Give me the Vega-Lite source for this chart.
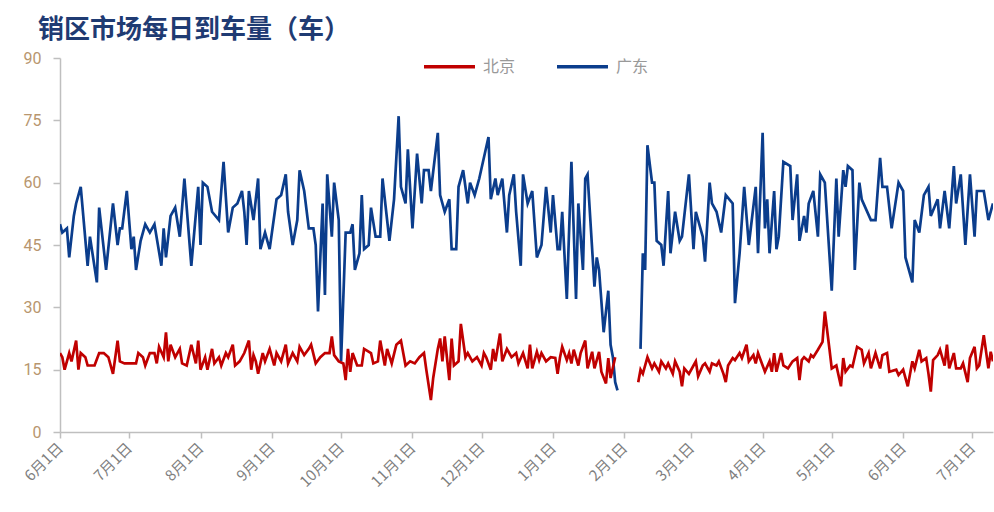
{
"$schema": "https://vega.github.io/schema/vega-lite/v6.json",
"width": 933,
"height": 374,
"autosize": {"type": "none"},
"padding": {"left": 60, "top": 58, "right": 1, "bottom": 80},
"background": "white",
"title": {"text": "销区市场每日到车量（车）", "anchor": "start", "dx": 16, "dy": 11, "fontSize": 26, "font": "Noto Sans CJK SC", "fontWeight": "bold", "color": "#1F3B73", "offset": 7},
"data": {"values": [
{"d":"2023/06/01","s":"广东","v":50,"g":1},{"d":"2023/06/02","s":"广东","v":48,"g":1},{"d":"2023/06/04","s":"广东","v":49,"g":1},{"d":"2023/06/05","s":"广东","v":42,"g":1},{"d":"2023/06/07","s":"广东","v":52,"g":1},{"d":"2023/06/08","s":"广东","v":55,"g":1},{"d":"2023/06/10","s":"广东","v":59,"g":1},{"d":"2023/06/13","s":"广东","v":40,"g":1},{"d":"2023/06/14","s":"广东","v":47,"g":1},{"d":"2023/06/17","s":"广东","v":36,"g":1},{"d":"2023/06/18","s":"广东","v":54,"g":1},{"d":"2023/06/21","s":"广东","v":39,"g":1},{"d":"2023/06/24","s":"广东","v":55,"g":1},{"d":"2023/06/26","s":"广东","v":45,"g":1},{"d":"2023/06/27","s":"广东","v":49,"g":1},{"d":"2023/06/28","s":"广东","v":49,"g":1},{"d":"2023/06/30","s":"广东","v":58,"g":1},
{"d":"2023/07/02","s":"广东","v":44,"g":1},{"d":"2023/07/03","s":"广东","v":47,"g":1},{"d":"2023/07/04","s":"广东","v":39,"g":1},{"d":"2023/07/06","s":"广东","v":46,"g":1},{"d":"2023/07/08","s":"广东","v":50,"g":1},{"d":"2023/07/10","s":"广东","v":48,"g":1},{"d":"2023/07/12","s":"广东","v":50,"g":1},{"d":"2023/07/15","s":"广东","v":40,"g":1},{"d":"2023/07/16","s":"广东","v":49,"g":1},{"d":"2023/07/17","s":"广东","v":42,"g":1},{"d":"2023/07/19","s":"广东","v":52,"g":1},{"d":"2023/07/21","s":"广东","v":54,"g":1},{"d":"2023/07/23","s":"广东","v":47,"g":1},{"d":"2023/07/25","s":"广东","v":61,"g":1},{"d":"2023/07/28","s":"广东","v":40,"g":1},{"d":"2023/07/31","s":"广东","v":59,"g":1},
{"d":"2023/08/01","s":"广东","v":45,"g":1},{"d":"2023/08/02","s":"广东","v":60,"g":1},{"d":"2023/08/04","s":"广东","v":59,"g":1},{"d":"2023/08/06","s":"广东","v":53,"g":1},{"d":"2023/08/09","s":"广东","v":51,"g":1},{"d":"2023/08/11","s":"广东","v":65,"g":1},{"d":"2023/08/13","s":"广东","v":48,"g":1},{"d":"2023/08/15","s":"广东","v":54,"g":1},{"d":"2023/08/17","s":"广东","v":55,"g":1},{"d":"2023/08/19","s":"广东","v":58,"g":1},{"d":"2023/08/20","s":"广东","v":53,"g":1},{"d":"2023/08/21","s":"广东","v":45,"g":1},{"d":"2023/08/22","s":"广东","v":58,"g":1},{"d":"2023/08/24","s":"广东","v":51,"g":1},{"d":"2023/08/26","s":"广东","v":61,"g":1},{"d":"2023/08/27","s":"广东","v":44,"g":1},{"d":"2023/08/29","s":"广东","v":48,"g":1},{"d":"2023/08/31","s":"广东","v":44,"g":1},
{"d":"2023/09/03","s":"广东","v":56,"g":1},{"d":"2023/09/05","s":"广东","v":57,"g":1},{"d":"2023/09/07","s":"广东","v":62,"g":1},{"d":"2023/09/08","s":"广东","v":53,"g":1},{"d":"2023/09/10","s":"广东","v":45,"g":1},{"d":"2023/09/12","s":"广东","v":51,"g":1},{"d":"2023/09/13","s":"广东","v":63,"g":1},{"d":"2023/09/15","s":"广东","v":58,"g":1},{"d":"2023/09/17","s":"广东","v":49,"g":1},{"d":"2023/09/19","s":"广东","v":49,"g":1},{"d":"2023/09/20","s":"广东","v":45,"g":1},{"d":"2023/09/21","s":"广东","v":29,"g":1},{"d":"2023/09/23","s":"广东","v":55,"g":1},{"d":"2023/09/24","s":"广东","v":33,"g":1},{"d":"2023/09/25","s":"广东","v":62,"g":1},{"d":"2023/09/27","s":"广东","v":47,"g":1},{"d":"2023/09/28","s":"广东","v":60,"g":1},{"d":"2023/09/30","s":"广东","v":51,"g":1},
{"d":"2023/10/01","s":"广东","v":17,"g":1},{"d":"2023/10/03","s":"广东","v":48,"g":1},{"d":"2023/10/05","s":"广东","v":48,"g":1},{"d":"2023/10/06","s":"广东","v":50,"g":1},{"d":"2023/10/07","s":"广东","v":39,"g":1},{"d":"2023/10/09","s":"广东","v":43,"g":1},{"d":"2023/10/10","s":"广东","v":57,"g":1},{"d":"2023/10/11","s":"广东","v":44,"g":1},{"d":"2023/10/13","s":"广东","v":45,"g":1},{"d":"2023/10/14","s":"广东","v":54,"g":1},{"d":"2023/10/16","s":"广东","v":47,"g":1},{"d":"2023/10/18","s":"广东","v":47,"g":1},{"d":"2023/10/19","s":"广东","v":61,"g":1},{"d":"2023/10/22","s":"广东","v":46,"g":1},{"d":"2023/10/24","s":"广东","v":56,"g":1},{"d":"2023/10/26","s":"广东","v":76,"g":1},{"d":"2023/10/27","s":"广东","v":59,"g":1},{"d":"2023/10/29","s":"广东","v":55,"g":1},{"d":"2023/10/30","s":"广东","v":68,"g":1},
{"d":"2023/11/01","s":"广东","v":49,"g":1},{"d":"2023/11/03","s":"广东","v":67,"g":1},{"d":"2023/11/05","s":"广东","v":55,"g":1},{"d":"2023/11/06","s":"广东","v":63,"g":1},{"d":"2023/11/08","s":"广东","v":63,"g":1},{"d":"2023/11/09","s":"广东","v":58,"g":1},{"d":"2023/11/12","s":"广东","v":72,"g":1},{"d":"2023/11/13","s":"广东","v":57,"g":1},{"d":"2023/11/15","s":"广东","v":53,"g":1},{"d":"2023/11/17","s":"广东","v":56,"g":1},{"d":"2023/11/18","s":"广东","v":44,"g":1},{"d":"2023/11/20","s":"广东","v":44,"g":1},{"d":"2023/11/21","s":"广东","v":59,"g":1},{"d":"2023/11/23","s":"广东","v":63,"g":1},{"d":"2023/11/25","s":"广东","v":55,"g":1},{"d":"2023/11/26","s":"广东","v":60,"g":1},{"d":"2023/11/28","s":"广东","v":57,"g":1},{"d":"2023/11/30","s":"广东","v":61,"g":1},
{"d":"2023/12/04","s":"广东","v":71,"g":1},{"d":"2023/12/05","s":"广东","v":56,"g":1},{"d":"2023/12/07","s":"广东","v":61,"g":1},{"d":"2023/12/08","s":"广东","v":57,"g":1},{"d":"2023/12/10","s":"广东","v":61,"g":1},{"d":"2023/12/12","s":"广东","v":48,"g":1},{"d":"2023/12/13","s":"广东","v":57,"g":1},{"d":"2023/12/15","s":"广东","v":62,"g":1},{"d":"2023/12/16","s":"广东","v":53,"g":1},{"d":"2023/12/18","s":"广东","v":40,"g":1},{"d":"2023/12/19","s":"广东","v":62,"g":1},{"d":"2023/12/21","s":"广东","v":55,"g":1},{"d":"2023/12/23","s":"广东","v":58,"g":1},{"d":"2023/12/25","s":"广东","v":42,"g":1},{"d":"2023/12/27","s":"广东","v":45,"g":1},{"d":"2023/12/29","s":"广东","v":59,"g":1},{"d":"2023/12/31","s":"广东","v":48,"g":1},
{"d":"2024/01/01","s":"广东","v":57,"g":1},{"d":"2024/01/03","s":"广东","v":44,"g":1},{"d":"2024/01/04","s":"广东","v":44,"g":1},{"d":"2024/01/05","s":"广东","v":53,"g":1},{"d":"2024/01/07","s":"广东","v":32,"g":1},{"d":"2024/01/09","s":"广东","v":65,"g":1},{"d":"2024/01/11","s":"广东","v":32,"g":1},{"d":"2024/01/12","s":"广东","v":55,"g":1},{"d":"2024/01/14","s":"广东","v":39,"g":1},{"d":"2024/01/15","s":"广东","v":61,"g":1},{"d":"2024/01/16","s":"广东","v":62,"g":1},{"d":"2024/01/19","s":"广东","v":35,"g":1},{"d":"2024/01/20","s":"广东","v":42,"g":1},{"d":"2024/01/21","s":"广东","v":39,"g":1},{"d":"2024/01/23","s":"广东","v":24,"g":1},{"d":"2024/01/25","s":"广东","v":34,"g":1},{"d":"2024/01/26","s":"广东","v":21,"g":1},{"d":"2024/01/27","s":"广东","v":18,"g":1},{"d":"2024/01/28","s":"广东","v":12,"g":1},{"d":"2024/01/29","s":"广东","v":10,"g":1},
{"d":"2024/02/08","s":"广东","v":20,"g":2},{"d":"2024/02/09","s":"广东","v":43,"g":2},{"d":"2024/02/10","s":"广东","v":39,"g":2},{"d":"2024/02/11","s":"广东","v":69,"g":2},{"d":"2024/02/13","s":"广东","v":60,"g":2},{"d":"2024/02/14","s":"广东","v":60,"g":2},{"d":"2024/02/15","s":"广东","v":46,"g":2},{"d":"2024/02/17","s":"广东","v":45,"g":2},{"d":"2024/02/18","s":"广东","v":40,"g":2},{"d":"2024/02/20","s":"广东","v":58,"g":2},{"d":"2024/02/21","s":"广东","v":43,"g":2},{"d":"2024/02/23","s":"广东","v":53,"g":2},{"d":"2024/02/25","s":"广东","v":46,"g":2},{"d":"2024/02/26","s":"广东","v":47,"g":2},{"d":"2024/02/27","s":"广东","v":52,"g":2},{"d":"2024/02/29","s":"广东","v":62,"g":2},
{"d":"2024/03/02","s":"广东","v":44,"g":2},{"d":"2024/03/03","s":"广东","v":53,"g":2},{"d":"2024/03/06","s":"广东","v":47,"g":2},{"d":"2024/03/07","s":"广东","v":41,"g":2},{"d":"2024/03/09","s":"广东","v":60,"g":2},{"d":"2024/03/10","s":"广东","v":55,"g":2},{"d":"2024/03/12","s":"广东","v":53,"g":2},{"d":"2024/03/14","s":"广东","v":48,"g":2},{"d":"2024/03/16","s":"广东","v":57,"g":2},{"d":"2024/03/19","s":"广东","v":55,"g":2},{"d":"2024/03/20","s":"广东","v":31,"g":2},{"d":"2024/03/22","s":"广东","v":43,"g":2},{"d":"2024/03/24","s":"广东","v":59,"g":2},{"d":"2024/03/26","s":"广东","v":45,"g":2},{"d":"2024/03/29","s":"广东","v":59,"g":2},{"d":"2024/03/30","s":"广东","v":43,"g":2},
{"d":"2024/04/01","s":"广东","v":72,"g":2},{"d":"2024/04/02","s":"广东","v":49,"g":2},{"d":"2024/04/03","s":"广东","v":56,"g":2},{"d":"2024/04/04","s":"广东","v":43,"g":2},{"d":"2024/04/06","s":"广东","v":58,"g":2},{"d":"2024/04/07","s":"广东","v":44,"g":2},{"d":"2024/04/08","s":"广东","v":47,"g":2},{"d":"2024/04/10","s":"广东","v":65,"g":2},{"d":"2024/04/13","s":"广东","v":64,"g":2},{"d":"2024/04/14","s":"广东","v":51,"g":2},{"d":"2024/04/16","s":"广东","v":62,"g":2},{"d":"2024/04/17","s":"广东","v":46,"g":2},{"d":"2024/04/19","s":"广东","v":52,"g":2},{"d":"2024/04/20","s":"广东","v":48,"g":2},{"d":"2024/04/21","s":"广东","v":55,"g":2},{"d":"2024/04/23","s":"广东","v":58,"g":2},{"d":"2024/04/25","s":"广东","v":47,"g":2},{"d":"2024/04/26","s":"广东","v":62,"g":2},{"d":"2024/04/28","s":"广东","v":60,"g":2},
{"d":"2024/05/01","s":"广东","v":34,"g":2},{"d":"2024/05/03","s":"广东","v":61,"g":2},{"d":"2024/05/04","s":"广东","v":47,"g":2},{"d":"2024/05/06","s":"广东","v":63,"g":2},{"d":"2024/05/07","s":"广东","v":59,"g":2},{"d":"2024/05/08","s":"广东","v":64,"g":2},{"d":"2024/05/10","s":"广东","v":63,"g":2},{"d":"2024/05/11","s":"广东","v":39,"g":2},{"d":"2024/05/13","s":"广东","v":60,"g":2},{"d":"2024/05/14","s":"广东","v":56,"g":2},{"d":"2024/05/18","s":"广东","v":51,"g":2},{"d":"2024/05/20","s":"广东","v":51,"g":2},{"d":"2024/05/22","s":"广东","v":66,"g":2},{"d":"2024/05/23","s":"广东","v":59,"g":2},{"d":"2024/05/25","s":"广东","v":59,"g":2},{"d":"2024/05/27","s":"广东","v":49,"g":2},{"d":"2024/05/30","s":"广东","v":60,"g":2},
{"d":"2024/06/01","s":"广东","v":58,"g":2},{"d":"2024/06/02","s":"广东","v":42,"g":2},{"d":"2024/06/05","s":"广东","v":36,"g":2},{"d":"2024/06/06","s":"广东","v":51,"g":2},{"d":"2024/06/08","s":"广东","v":48,"g":2},{"d":"2024/06/10","s":"广东","v":57,"g":2},{"d":"2024/06/12","s":"广东","v":59,"g":2},{"d":"2024/06/13","s":"广东","v":52,"g":2},{"d":"2024/06/16","s":"广东","v":56,"g":2},{"d":"2024/06/17","s":"广东","v":49,"g":2},{"d":"2024/06/19","s":"广东","v":58,"g":2},{"d":"2024/06/21","s":"广东","v":49,"g":2},{"d":"2024/06/23","s":"广东","v":64,"g":2},{"d":"2024/06/24","s":"广东","v":55,"g":2},{"d":"2024/06/26","s":"广东","v":62,"g":2},{"d":"2024/06/28","s":"广东","v":45,"g":2},{"d":"2024/06/30","s":"广东","v":62,"g":2},{"d":"2024/07/02","s":"广东","v":47,"g":2},{"d":"2024/07/03","s":"广东","v":58,"g":2},{"d":"2024/07/06","s":"广东","v":58,"g":2},{"d":"2024/07/08","s":"广东","v":51,"g":2},{"d":"2024/07/10","s":"广东","v":55,"g":2},
{"d":"2023/06/01","s":"北京","v":19,"g":1},{"d":"2023/06/02","s":"北京","v":18,"g":1},{"d":"2023/06/03","s":"北京","v":15,"g":1},{"d":"2023/06/05","s":"北京","v":19,"g":1},{"d":"2023/06/06","s":"北京","v":17,"g":1},{"d":"2023/06/08","s":"北京","v":22,"g":1},{"d":"2023/06/09","s":"北京","v":15,"g":1},{"d":"2023/06/10","s":"北京","v":19,"g":1},{"d":"2023/06/12","s":"北京","v":18,"g":1},{"d":"2023/06/13","s":"北京","v":16,"g":1},{"d":"2023/06/16","s":"北京","v":16,"g":1},{"d":"2023/06/18","s":"北京","v":19,"g":1},{"d":"2023/06/20","s":"北京","v":19,"g":1},{"d":"2023/06/22","s":"北京","v":18,"g":1},{"d":"2023/06/24","s":"北京","v":14,"g":1},{"d":"2023/06/26","s":"北京","v":22,"g":1},{"d":"2023/06/27","s":"北京","v":17,"g":1},{"d":"2023/06/29","s":"北京","v":16.5,"g":1},
{"d":"2023/07/04","s":"北京","v":16.5,"g":1},{"d":"2023/07/05","s":"北京","v":19,"g":1},{"d":"2023/07/07","s":"北京","v":18,"g":1},{"d":"2023/07/08","s":"北京","v":16,"g":1},{"d":"2023/07/10","s":"北京","v":19,"g":1},{"d":"2023/07/12","s":"北京","v":19,"g":1},{"d":"2023/07/13","s":"北京","v":16.5,"g":1},{"d":"2023/07/14","s":"北京","v":20.5,"g":1},{"d":"2023/07/16","s":"北京","v":18,"g":1},{"d":"2023/07/17","s":"北京","v":24,"g":1},{"d":"2023/07/18","s":"北京","v":17,"g":1},{"d":"2023/07/19","s":"北京","v":21,"g":1},{"d":"2023/07/21","s":"北京","v":18,"g":1},{"d":"2023/07/23","s":"北京","v":20,"g":1},{"d":"2023/07/24","s":"北京","v":16.5,"g":1},{"d":"2023/07/26","s":"北京","v":16,"g":1},{"d":"2023/07/28","s":"北京","v":21,"g":1},{"d":"2023/07/30","s":"北京","v":16.5,"g":1},{"d":"2023/07/31","s":"北京","v":22,"g":1},
{"d":"2023/08/01","s":"北京","v":15,"g":1},{"d":"2023/08/03","s":"北京","v":18,"g":1},{"d":"2023/08/04","s":"北京","v":15,"g":1},{"d":"2023/08/06","s":"北京","v":20,"g":1},{"d":"2023/08/07","s":"北京","v":16.5,"g":1},{"d":"2023/08/09","s":"北京","v":18,"g":1},{"d":"2023/08/10","s":"北京","v":16,"g":1},{"d":"2023/08/12","s":"北京","v":19,"g":1},{"d":"2023/08/13","s":"北京","v":18,"g":1},{"d":"2023/08/15","s":"北京","v":21,"g":1},{"d":"2023/08/16","s":"北京","v":16,"g":1},{"d":"2023/08/18","s":"北京","v":17,"g":1},{"d":"2023/08/20","s":"北京","v":19,"g":1},{"d":"2023/08/22","s":"北京","v":22,"g":1},{"d":"2023/08/23","s":"北京","v":15,"g":1},{"d":"2023/08/24","s":"北京","v":18.5,"g":1},{"d":"2023/08/25","s":"北京","v":17,"g":1},{"d":"2023/08/26","s":"北京","v":14,"g":1},{"d":"2023/08/28","s":"北京","v":19,"g":1},{"d":"2023/08/29","s":"北京","v":17,"g":1},{"d":"2023/08/31","s":"北京","v":20,"g":1},
{"d":"2023/09/02","s":"北京","v":16,"g":1},{"d":"2023/09/03","s":"北京","v":19,"g":1},{"d":"2023/09/05","s":"北京","v":17,"g":1},{"d":"2023/09/07","s":"北京","v":21,"g":1},{"d":"2023/09/08","s":"北京","v":16.5,"g":1},{"d":"2023/09/10","s":"北京","v":19,"g":1},{"d":"2023/09/12","s":"北京","v":17,"g":1},{"d":"2023/09/13","s":"北京","v":20.5,"g":1},{"d":"2023/09/15","s":"北京","v":18.5,"g":1},{"d":"2023/09/17","s":"北京","v":20,"g":1},{"d":"2023/09/18","s":"北京","v":21,"g":1},{"d":"2023/09/20","s":"北京","v":16.5,"g":1},{"d":"2023/09/22","s":"北京","v":18,"g":1},{"d":"2023/09/24","s":"北京","v":19,"g":1},{"d":"2023/09/26","s":"北京","v":19,"g":1},{"d":"2023/09/27","s":"北京","v":23,"g":1},{"d":"2023/09/28","s":"北京","v":18.5,"g":1},{"d":"2023/09/30","s":"北京","v":17,"g":1},
{"d":"2023/10/02","s":"北京","v":16.5,"g":1},{"d":"2023/10/03","s":"北京","v":12.5,"g":1},{"d":"2023/10/04","s":"北京","v":20,"g":1},{"d":"2023/10/05","s":"北京","v":14.5,"g":1},{"d":"2023/10/06","s":"北京","v":19,"g":1},{"d":"2023/10/08","s":"北京","v":16,"g":1},{"d":"2023/10/10","s":"北京","v":16,"g":1},{"d":"2023/10/11","s":"北京","v":20,"g":1},{"d":"2023/10/14","s":"北京","v":19,"g":1},{"d":"2023/10/15","s":"北京","v":16.5,"g":1},{"d":"2023/10/17","s":"北京","v":17,"g":1},{"d":"2023/10/18","s":"北京","v":22,"g":1},{"d":"2023/10/20","s":"北京","v":16,"g":1},{"d":"2023/10/21","s":"北京","v":20,"g":1},{"d":"2023/10/23","s":"北京","v":16.5,"g":1},{"d":"2023/10/25","s":"北京","v":21,"g":1},{"d":"2023/10/27","s":"北京","v":22,"g":1},{"d":"2023/10/29","s":"北京","v":16,"g":1},{"d":"2023/10/31","s":"北京","v":17,"g":1},
{"d":"2023/11/02","s":"北京","v":16.5,"g":1},{"d":"2023/11/04","s":"北京","v":18,"g":1},{"d":"2023/11/06","s":"北京","v":19,"g":1},{"d":"2023/11/07","s":"北京","v":15,"g":1},{"d":"2023/11/09","s":"北京","v":7.7,"g":1},{"d":"2023/11/10","s":"北京","v":13,"g":1},{"d":"2023/11/12","s":"北京","v":20,"g":1},{"d":"2023/11/13","s":"北京","v":22.5,"g":1},{"d":"2023/11/14","s":"北京","v":17,"g":1},{"d":"2023/11/15","s":"北京","v":23,"g":1},{"d":"2023/11/17","s":"北京","v":12.5,"g":1},{"d":"2023/11/18","s":"北京","v":22.5,"g":1},{"d":"2023/11/19","s":"北京","v":16,"g":1},{"d":"2023/11/21","s":"北京","v":17,"g":1},{"d":"2023/11/22","s":"北京","v":26,"g":1},{"d":"2023/11/24","s":"北京","v":18,"g":1},{"d":"2023/11/25","s":"北京","v":19,"g":1},{"d":"2023/11/27","s":"北京","v":17,"g":1},{"d":"2023/11/29","s":"北京","v":18,"g":1},
{"d":"2023/12/01","s":"北京","v":16,"g":1},{"d":"2023/12/02","s":"北京","v":19,"g":1},{"d":"2023/12/03","s":"北京","v":18,"g":1},{"d":"2023/12/05","s":"北京","v":15,"g":1},{"d":"2023/12/06","s":"北京","v":20,"g":1},{"d":"2023/12/07","s":"北京","v":17,"g":1},{"d":"2023/12/09","s":"北京","v":23.7,"g":1},{"d":"2023/12/10","s":"北京","v":17,"g":1},{"d":"2023/12/12","s":"北京","v":20,"g":1},{"d":"2023/12/14","s":"北京","v":18,"g":1},{"d":"2023/12/16","s":"北京","v":19,"g":1},{"d":"2023/12/17","s":"北京","v":16.5,"g":1},{"d":"2023/12/19","s":"北京","v":19,"g":1},{"d":"2023/12/21","s":"北京","v":15.3,"g":1},{"d":"2023/12/22","s":"北京","v":21,"g":1},{"d":"2023/12/23","s":"北京","v":15.3,"g":1},{"d":"2023/12/25","s":"北京","v":19.3,"g":1},{"d":"2023/12/26","s":"北京","v":17.3,"g":1},{"d":"2023/12/27","s":"北京","v":19,"g":1},{"d":"2023/12/29","s":"北京","v":17,"g":1},{"d":"2023/12/31","s":"北京","v":18,"g":1},
{"d":"2024/01/02","s":"北京","v":17.8,"g":1},{"d":"2024/01/03","s":"北京","v":14,"g":1},{"d":"2024/01/04","s":"北京","v":17.8,"g":1},{"d":"2024/01/05","s":"北京","v":20.5,"g":1},{"d":"2024/01/07","s":"北京","v":17.3,"g":1},{"d":"2024/01/08","s":"北京","v":19,"g":1},{"d":"2024/01/09","s":"北京","v":16.5,"g":1},{"d":"2024/01/10","s":"北京","v":19.8,"g":1},{"d":"2024/01/12","s":"北京","v":16,"g":1},{"d":"2024/01/13","s":"北京","v":19,"g":1},{"d":"2024/01/15","s":"北京","v":22,"g":1},{"d":"2024/01/16","s":"北京","v":15.3,"g":1},{"d":"2024/01/18","s":"北京","v":19.3,"g":1},{"d":"2024/01/19","s":"北京","v":15.3,"g":1},{"d":"2024/01/21","s":"北京","v":19.3,"g":1},{"d":"2024/01/22","s":"北京","v":14.5,"g":1},{"d":"2024/01/24","s":"北京","v":11.7,"g":1},{"d":"2024/01/25","s":"北京","v":17.8,"g":1},{"d":"2024/01/26","s":"北京","v":13,"g":1},{"d":"2024/01/28","s":"北京","v":18,"g":1},
{"d":"2024/02/07","s":"北京","v":12,"g":2},{"d":"2024/02/08","s":"北京","v":15,"g":2},{"d":"2024/02/09","s":"北京","v":14,"g":2},{"d":"2024/02/11","s":"北京","v":18,"g":2},{"d":"2024/02/13","s":"北京","v":15.3,"g":2},{"d":"2024/02/14","s":"北京","v":16.5,"g":2},{"d":"2024/02/16","s":"北京","v":14.5,"g":2},{"d":"2024/02/17","s":"北京","v":17,"g":2},{"d":"2024/02/19","s":"北京","v":15.3,"g":2},{"d":"2024/02/20","s":"北京","v":16.5,"g":2},{"d":"2024/02/22","s":"北京","v":14,"g":2},{"d":"2024/02/23","s":"北京","v":17,"g":2},{"d":"2024/02/25","s":"北京","v":14.5,"g":2},{"d":"2024/02/26","s":"北京","v":11,"g":2},{"d":"2024/02/27","s":"北京","v":15.3,"g":2},{"d":"2024/02/29","s":"北京","v":14,"g":2},
{"d":"2024/03/02","s":"北京","v":16,"g":2},{"d":"2024/03/03","s":"北京","v":17,"g":2},{"d":"2024/03/04","s":"北京","v":13.4,"g":2},{"d":"2024/03/06","s":"北京","v":16,"g":2},{"d":"2024/03/07","s":"北京","v":16.5,"g":2},{"d":"2024/03/09","s":"北京","v":14.5,"g":2},{"d":"2024/03/10","s":"北京","v":16.5,"g":2},{"d":"2024/03/12","s":"北京","v":16,"g":2},{"d":"2024/03/13","s":"北京","v":17,"g":2},{"d":"2024/03/15","s":"北京","v":14,"g":2},{"d":"2024/03/16","s":"北京","v":12,"g":2},{"d":"2024/03/17","s":"北京","v":16,"g":2},{"d":"2024/03/19","s":"北京","v":17.8,"g":2},{"d":"2024/03/20","s":"北京","v":17.3,"g":2},{"d":"2024/03/22","s":"北京","v":19,"g":2},{"d":"2024/03/23","s":"北京","v":17.8,"g":2},{"d":"2024/03/25","s":"北京","v":21,"g":2},{"d":"2024/03/26","s":"北京","v":17,"g":2},{"d":"2024/03/28","s":"北京","v":18.5,"g":2},{"d":"2024/03/29","s":"北京","v":16.5,"g":2},{"d":"2024/03/30","s":"北京","v":19,"g":2},
{"d":"2024/04/01","s":"北京","v":16,"g":2},{"d":"2024/04/02","s":"北京","v":14.5,"g":2},{"d":"2024/04/04","s":"北京","v":17,"g":2},{"d":"2024/04/05","s":"北京","v":14.5,"g":2},{"d":"2024/04/06","s":"北京","v":19,"g":2},{"d":"2024/04/07","s":"北京","v":14.5,"g":2},{"d":"2024/04/09","s":"北京","v":19,"g":2},{"d":"2024/04/10","s":"北京","v":16,"g":2},{"d":"2024/04/12","s":"北京","v":15.3,"g":2},{"d":"2024/04/14","s":"北京","v":17,"g":2},{"d":"2024/04/16","s":"北京","v":17.8,"g":2},{"d":"2024/04/17","s":"北京","v":12.5,"g":2},{"d":"2024/04/18","s":"北京","v":17.3,"g":2},{"d":"2024/04/19","s":"北京","v":18,"g":2},{"d":"2024/04/21","s":"北京","v":17,"g":2},{"d":"2024/04/22","s":"北京","v":18.5,"g":2},{"d":"2024/04/23","s":"北京","v":18,"g":2},{"d":"2024/04/25","s":"北京","v":19.8,"g":2},{"d":"2024/04/27","s":"北京","v":21.7,"g":2},{"d":"2024/04/28","s":"北京","v":29,"g":2},{"d":"2024/04/30","s":"北京","v":20,"g":2},
{"d":"2024/05/01","s":"北京","v":15.3,"g":2},{"d":"2024/05/03","s":"北京","v":16,"g":2},{"d":"2024/05/05","s":"北京","v":11,"g":2},{"d":"2024/05/06","s":"北京","v":17.8,"g":2},{"d":"2024/05/07","s":"北京","v":14.5,"g":2},{"d":"2024/05/09","s":"北京","v":16,"g":2},{"d":"2024/05/10","s":"北京","v":15.7,"g":2},{"d":"2024/05/12","s":"北京","v":20.5,"g":2},{"d":"2024/05/14","s":"北京","v":19.8,"g":2},{"d":"2024/05/15","s":"北京","v":16.5,"g":2},{"d":"2024/05/17","s":"北京","v":19,"g":2},{"d":"2024/05/18","s":"北京","v":15.3,"g":2},{"d":"2024/05/20","s":"北京","v":19,"g":2},{"d":"2024/05/22","s":"北京","v":15.3,"g":2},{"d":"2024/05/23","s":"北京","v":18.5,"g":2},{"d":"2024/05/25","s":"北京","v":19,"g":2},{"d":"2024/05/26","s":"北京","v":14.5,"g":2},{"d":"2024/05/29","s":"北京","v":15,"g":2},{"d":"2024/05/30","s":"北京","v":13.7,"g":2},
{"d":"2024/06/01","s":"北京","v":15,"g":2},{"d":"2024/06/03","s":"北京","v":11,"g":2},{"d":"2024/06/05","s":"北京","v":17,"g":2},{"d":"2024/06/06","s":"北京","v":15.3,"g":2},{"d":"2024/06/08","s":"北京","v":19.8,"g":2},{"d":"2024/06/09","s":"北京","v":17,"g":2},{"d":"2024/06/11","s":"北京","v":17.8,"g":2},{"d":"2024/06/12","s":"北京","v":14,"g":2},{"d":"2024/06/13","s":"北京","v":9.7,"g":2},{"d":"2024/06/14","s":"北京","v":17.3,"g":2},{"d":"2024/06/16","s":"北京","v":18.5,"g":2},{"d":"2024/06/17","s":"北京","v":19.8,"g":2},{"d":"2024/06/19","s":"北京","v":16,"g":2},{"d":"2024/06/20","s":"北京","v":21,"g":2},{"d":"2024/06/21","s":"北京","v":15.3,"g":2},{"d":"2024/06/23","s":"北京","v":19,"g":2},{"d":"2024/06/24","s":"北京","v":15.3,"g":2},{"d":"2024/06/26","s":"北京","v":15.3,"g":2},{"d":"2024/06/27","s":"北京","v":16.5,"g":2},{"d":"2024/06/29","s":"北京","v":12,"g":2},{"d":"2024/06/30","s":"北京","v":17.8,"g":2},{"d":"2024/07/02","s":"北京","v":20.5,"g":2},{"d":"2024/07/03","s":"北京","v":15.3,"g":2},{"d":"2024/07/04","s":"北京","v":16,"g":2},{"d":"2024/07/06","s":"北京","v":23.3,"g":2},{"d":"2024/07/08","s":"北京","v":15.3,"g":2},{"d":"2024/07/09","s":"北京","v":19.3,"g":2},{"d":"2024/07/10","s":"北京","v":17,"g":2}
]},
"mark": {"type": "line", "strokeWidth": 2.7, "clip": true},
"encoding": {
"x": {"field": "d", "type": "temporal", "scale": {"domain": [{"year": 2023, "month": 6, "date": 1}, {"year": 2024, "month": 7, "date": 10}]}, "axis": {"title": null, "format": "%-m月%-d日", "tickCount": {"interval": "month", "step": 1}, "labelAngle": -45, "labelAlign": "right", "labelBaseline": "middle", "labelColor": "#7F7F7F", "labelFont": "Noto Sans CJK SC", "labelFontSize": 15, "labelPadding": 7, "labelOverlap": false, "labelFlush": false, "domainColor": "#BFBFBF", "domainWidth": 1.5, "tickColor": "#BFBFBF", "tickWidth": 1.5, "tickSize": 6, "grid": false}},
"y": {"field": "v", "type": "quantitative", "scale": {"domain": [0, 90]}, "axis": {"title": null, "values": [0, 15, 30, 45, 60, 75, 90], "grid": false, "labelColor": "#B8966E", "labelFont": "Roboto", "labelFontSize": 16, "labelPadding": 12, "tickSize": 7, "domainColor": "#BFBFBF", "domainWidth": 1.5, "tickColor": "#BFBFBF", "tickWidth": 1.5}},
"color": {"field": "s", "type": "nominal", "scale": {"domain": ["北京", "广东"], "range": ["#C00000", "#0B3D8C"]}, "legend": {"title": null, "orient": "none", "legendX": 362, "legendY": -19, "direction": "horizontal", "symbolType": "stroke", "symbolSize": 2600, "symbolStrokeWidth": 3.5, "labelFont": "Noto Sans CJK SC", "labelFontSize": 16, "labelColor": "#999999", "columnPadding": 34, "labelOffset": 6}},
"detail": {"field": "g"}
},
"config": {"view": {"stroke": null}}
}
